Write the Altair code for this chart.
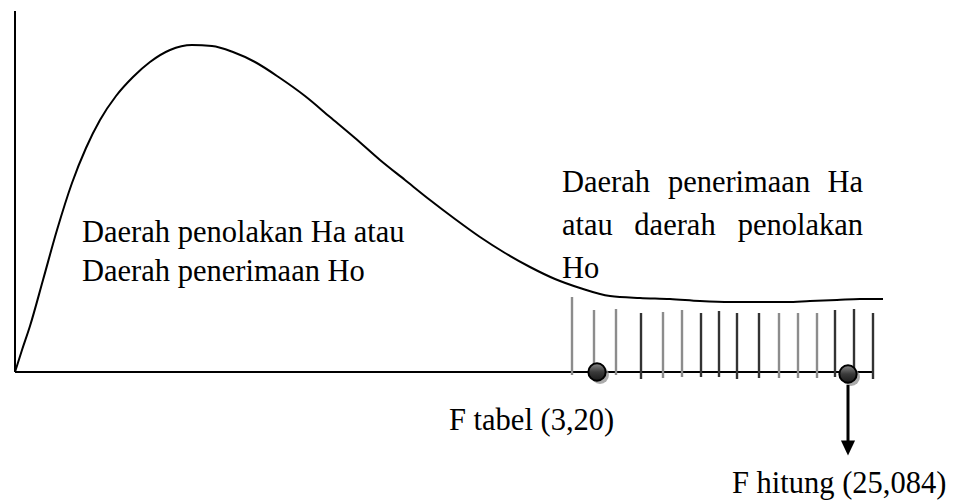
import altair as alt
import pandas as pd

# ---- data (x: position along the F axis, y: height above the axis) ----
curve_x = [0, 7, 15, 28, 42, 57, 71, 85, 101, 118, 135, 155, 177, 197, 218, 240,
           265, 290, 315, 340, 365, 390, 415, 440, 465, 490, 515, 540, 565, 595,
           625, 655, 685, 715, 745, 772, 795, 822, 845, 868]
curve_y = [0, 22, 46, 92, 142, 189, 224, 252, 276, 295, 310, 322, 327, 326, 320, 310,
           294, 276, 255, 234, 212, 192, 172, 153, 135, 119, 105, 93, 84, 76,
           74, 73, 71, 70, 70, 70, 71, 72, 73, 73]

hatch_x = [557, 579, 601, 626, 648, 667, 686, 704, 722, 744, 764, 783, 802, 820, 839, 858]
hatch_top = [75, 62, 63, 59, 60, 62, 59, 61, 59, 59, 59, 59, 59, 62, 63, 59]
hatch_bottom = [-3, 4, -3, -7, -6, -5, -5, -5, -7, -6, -6, -6, -6, -5, -5, -7]
hatch_kind = ["soft", "soft", "soft", "sharp", "soft", "soft", "sharp", "sharp",
              "sharp", "sharp", "soft", "soft", "soft", "sharp", "sharp", "sharp"]

axis_x_end = 858
axis_y_end = 361

point_names = ["F tabel (3,20)", "F hitung (25,084)"]
point_x = [582, 833]
point_y = [0, -2]

arrow_x = [833]
arrow_from = [-13]
arrow_to = [-70]
arrow_head = [-76]

left_text = ["Daerah penolakan Ha atau", "Daerah penerimaan Ho",
             "Daerah", "atau", "Ho", "F tabel (3,20)", "F hitung (25,084)"]
left_text_x = [67, 67, 547, 547, 547, 434, 717]
left_text_y = [130, 91, 180, 137, 94, -58, -121]

center_text = ["penerimaan", "daerah"]
center_text_x = [724, 660]
center_text_y = [180, 137]

right_text = ["Ha", "penolakan"]
right_text_x = [848, 848]
right_text_y = [180, 137]

# ---- tables ----
curve = pd.DataFrame({"x": curve_x, "y": curve_y})
hatch = pd.DataFrame({"x": hatch_x, "y": hatch_bottom, "y2": hatch_top, "kind": hatch_kind})
axes = pd.DataFrame({"x": [0, 0], "x2": [axis_x_end, 0], "y": [0, 0], "y2": [0, axis_y_end]})
pts = pd.DataFrame({"name": point_names, "x": point_x, "y": point_y})
arrow = pd.DataFrame({"x": arrow_x, "y": arrow_from, "y2": arrow_to, "h": arrow_head})
ltxt = pd.DataFrame({"t": left_text, "x": left_text_x, "y": left_text_y})
ctxt = pd.DataFrame({"t": center_text, "x": center_text_x, "y": center_text_y})
rtxt = pd.DataFrame({"t": right_text, "x": right_text_x, "y": right_text_y})

xs = alt.Scale(domain=[-7, 935], nice=False, zero=False)
ys = alt.Scale(domain=[-129, 364], nice=False, zero=False)
X = lambda f="x": alt.X(f"{f}:Q", scale=xs, axis=None)
Y = lambda f="y": alt.Y(f"{f}:Q", scale=ys, axis=None)

FONT = "Liberation Serif"
FS = 30.5

axis_layer = alt.Chart(axes).mark_rule(color="black", strokeWidth=2).encode(
    x=X(), x2="x2:Q", y=Y(), y2="y2:Q")

hatch_layer = alt.Chart(hatch).mark_rule(strokeWidth=2.4).encode(
    x=X(), y=Y(), y2="y2:Q",
    color=alt.Color("kind:N", scale=alt.Scale(domain=["soft", "sharp"],
                                               range=["#8c8c8c", "#333333"]), legend=None))

curve_layer = alt.Chart(curve).mark_line(color="black", strokeWidth=2,
                                         interpolate="monotone").encode(x=X(), y=Y())

shadow_layer = alt.Chart(pts).mark_point(filled=True, shape="circle", size=320,
                                         color="#8f8f8f", opacity=0.75,
                                         xOffset=3, yOffset=3).encode(x=X(), y=Y())

circle_layer = alt.Chart(pts).mark_point(
    shape="circle", size=300, filled=True, opacity=1,
    fill=alt.Gradient(gradient="linear", x1=0, x2=0, y1=0, y2=1,
                      stops=[alt.GradientStop(color="#8a8a8a", offset=0),
                             alt.GradientStop(color="#3a3a3a", offset=0.5),
                             alt.GradientStop(color="#1a1a1a", offset=1)]),
    stroke="black", strokeWidth=2).encode(x=X(), y=Y())

arrow_line = alt.Chart(arrow).mark_rule(color="black", strokeWidth=3).encode(
    x=X(), y=Y(), y2="y2:Q")
arrow_tip = alt.Chart(arrow).mark_point(shape="M-1,-1.05L1,-1.05L0,1.05Z", size=200,
                                        filled=True, color="black", opacity=1).encode(
    x=X(), y=Y("h"))

def text_layer(df, align):
    return alt.Chart(df).mark_text(font=FONT, fontSize=FS, align=align,
                                   baseline="alphabetic", color="black").encode(
        x=X(), y=Y(), text="t:N")

chart = alt.layer(
    axis_layer, hatch_layer, curve_layer, shadow_layer, circle_layer,
    arrow_line, arrow_tip,
    text_layer(ltxt, "left"), text_layer(ctxt, "center"), text_layer(rtxt, "right"),
).properties(width=942, height=493, autosize="none", padding=0,
             background="white").configure_view(stroke=None)

chart.save("out.html", embed_options={"renderer": "svg", "actions": False})
